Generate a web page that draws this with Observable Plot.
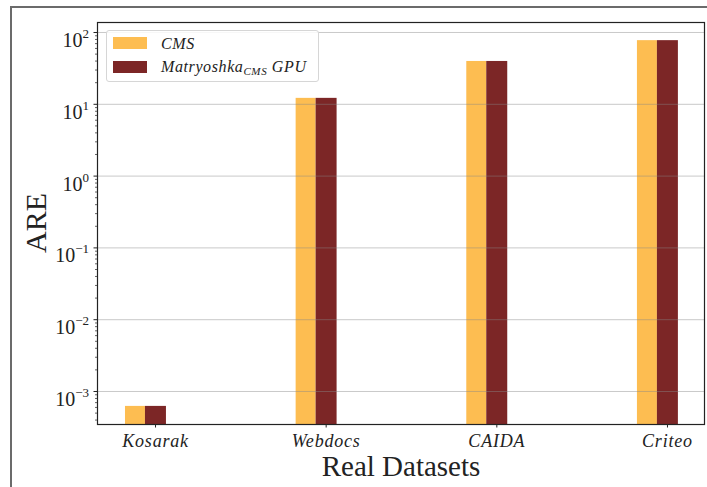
<!DOCTYPE html>
<html>
<head>
<meta charset="utf-8">
<script src="https://cdn.jsdelivr.net/npm/d3@7"></script>
<script src="https://cdn.jsdelivr.net/npm/@observablehq/plot@0.6"></script>
<style>
  html, body { margin: 0; padding: 0; background: #fff; }
  body { width: 707px; height: 487px; position: relative; overflow: hidden; font-family: "Liberation Serif", serif; }
  #frame { position: absolute; left: 10px; top: 6px; width: 720px; height: 500px; border: 2px solid #6b6b6b; box-sizing: border-box; }
  #chart { position: absolute; left: 0; top: 0; }
  .legend { position: absolute; left: 106px; top: 30px; width: 213px; height: 52px; box-sizing: border-box;
            border: 1px solid #d6d6d6; border-radius: 3px; background: rgba(255,255,255,0.85); }
  .sw { position: absolute; left: 6px; width: 34px; height: 12px; }
  .lt { position: absolute; left: 54px; white-space: nowrap; font-style: italic; font-size: 16px; color: #222; letter-spacing: 0.6px; }
  .lt sub { font-size: 11px; vertical-align: -3px; line-height: 0; }
  .ylab { position: absolute; left: 36px; top: 223px; transform: translate(-50%, -50%) rotate(-90deg); font-size: 30px; color: #222; white-space: nowrap; }
  .xlab { position: absolute; left: 401px; top: 466px; transform: translate(-50%, -50%); font-size: 29px; color: #222; white-space: nowrap; }
</style>
</head>
<body>
<div id="frame"></div>
<div id="chart"></div>
<script>
const datasets = ["Kosarak", "Webdocs", "CAIDA", "Criteo"];
const seriesNames = ["CMS", "Matryoshka GPU"];
const cmsValues = [6.2e-4, 12.1, 39.5, 77];
const gpuValues = [6.2e-4, 12.1, 39.5, 77];
const yMajorTicks = [1e-3, 1e-2, 1e-1, 1e0, 1e1, 1e2];
const yMajorExponents = ["−3", "−2", "−1", "0", "1", "2"];
const colors = ["#fdbd51", "#7c2626"];

const yDomain = [3.47e-4, 137.8];
const yMinorTicks = [];
for (let k = -4; k <= 2; k++) for (let m = 2; m <= 9; m++) {
  const v = m * Math.pow(10, k);
  if (v >= yDomain[0] && v <= yDomain[1]) yMinorTicks.push(v);
}

const rows = [];
datasets.forEach((d, i) => {
  rows.push({dataset: d, i, series: seriesNames[0], value: cmsValues[i], x1: i - 0.176, x2: i - 0.059});
  rows.push({dataset: d, i, series: seriesNames[1], value: gpuValues[i], x1: i - 0.059, x2: i + 0.064});
});

const chart = Plot.plot({
  width: 707,
  height: 487,
  marginLeft: 97,
  marginRight: 3,
  marginTop: 22,
  marginBottom: 63,
  style: {fontFamily: "Liberation Serif, serif", background: "transparent", color: "#222"},
  x: {type: "linear", domain: [-0.34, 3.217], label: null},
  y: {type: "log", domain: yDomain, label: null},
  color: {domain: seriesNames, range: colors},
  marks: [
    Plot.rectY(rows, {x1: "x1", x2: "x2", y1: yDomain[0], y2: "value", fill: "series"}),
    Plot.gridY(yMajorTicks, {stroke: "#888", strokeOpacity: 0.45, strokeWidth: 1}),
    Plot.axisY({ticks: yMinorTicks, tickSize: 2, tickFormat: () => "", stroke: "#222", strokeWidth: 0.7}),
    Plot.axisY({ticks: yMajorTicks, tickSize: 3.5, tickPadding: 5, fontSize: 20,
                tickFormat: v => "10^" + yMajorExponents[yMajorTicks.indexOf(v)], stroke: "#222", fill: "#222"}),
    Plot.axisX({ticks: [0, 1, 2, 3], tickSize: 3.5, tickPadding: 6, fontSize: 18, fontStyle: "italic",
                tickFormat: i => datasets[i], stroke: "#222", fill: "#222"}),
    Plot.frame({stroke: "#222", strokeWidth: 1.2})
  ]
});
chart.querySelectorAll('[aria-label="x-axis tick label"] text').forEach(t => t.setAttribute("letter-spacing", "0.8"));
// render exponents as superscripts
chart.querySelectorAll('[aria-label="y-axis tick label"] text').forEach(t => {
  const s = t.textContent;
  const k = s.indexOf("^");
  if (k < 0) return;
  const base = s.slice(0, k), exp = s.slice(k + 1);
  t.textContent = "";
  const ns = "http://www.w3.org/2000/svg";
  const b = document.createElementNS(ns, "tspan"); b.textContent = base; t.appendChild(b);
  const e = document.createElementNS(ns, "tspan"); e.textContent = exp;
  e.setAttribute("font-size", "13"); e.setAttribute("dy", "-9"); t.appendChild(e);
  t.setAttribute("dy", "0.4em");
});
document.getElementById("chart").appendChild(chart);

const legend = document.createElement("div");
legend.className = "legend";
legend.innerHTML = `
  <div class="sw" style="top:6px;background:${colors[0]}"></div>
  <div class="lt" style="top:4px">CMS</div>
  <div class="sw" style="top:30px;background:${colors[1]}"></div>
  <div class="lt" style="top:27px">Matryoshka<sub>CMS</sub> GPU</div>`;
document.body.appendChild(legend);

const yl = document.createElement("div"); yl.className = "ylab"; yl.textContent = "ARE"; document.body.appendChild(yl);
const xl = document.createElement("div"); xl.className = "xlab"; xl.textContent = "Real Datasets"; document.body.appendChild(xl);
</script>
</body>
</html>
